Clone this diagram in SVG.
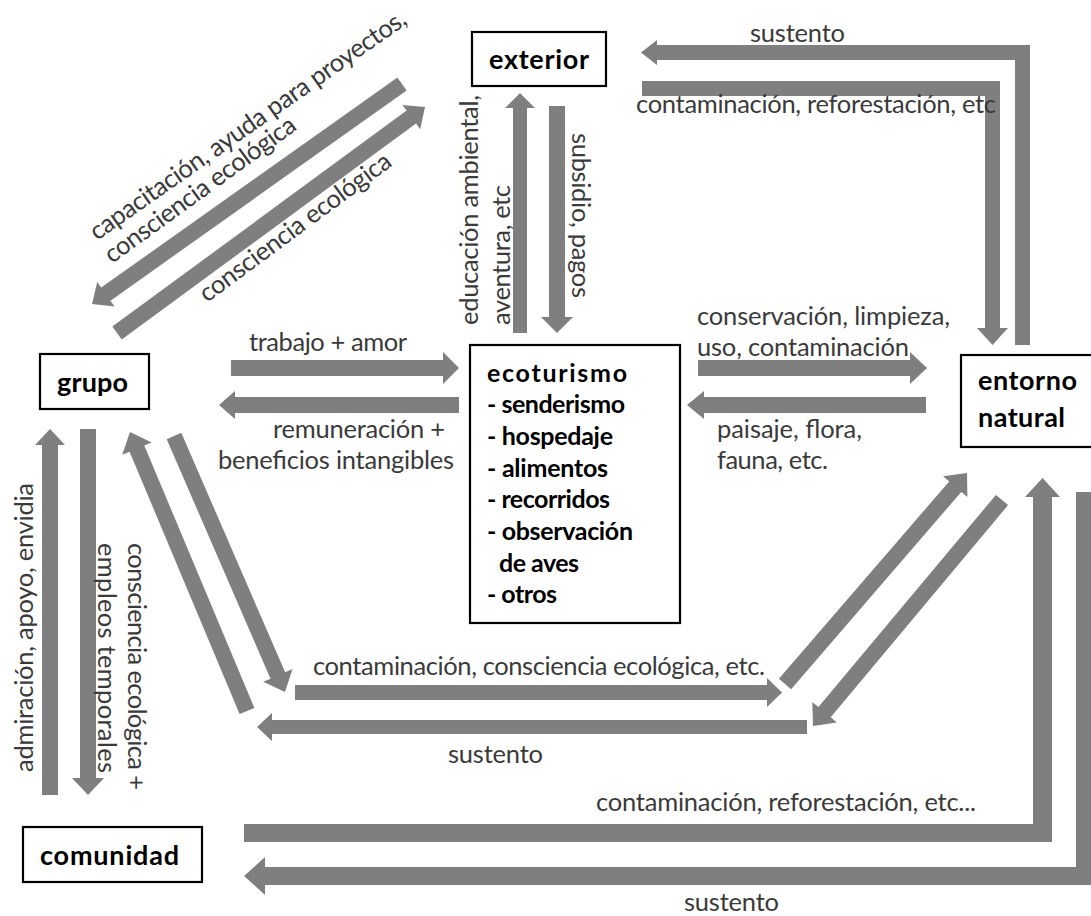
<svg xmlns="http://www.w3.org/2000/svg" width="1091" height="916" viewBox="0 0 1091 916">
<style>
.lbl{font-family:Lato,"Open Sans",sans-serif;font-size:25.5px;fill:#3a3a3a;}
.nt{font-family:Lato,"Open Sans",sans-serif;font-weight:bold;font-size:27px;fill:#000;}
.li{font-family:Lato,"Open Sans",sans-serif;font-weight:bold;font-size:25px;fill:#000;}
.box{fill:#fff;stroke:#000;stroke-width:2.2;}
.arr{fill:#7f7f7f;}
</style>
<rect width="1091" height="916" fill="#fff"/>
<g id="connectors">
  <polygon class="arr" points="397.4,77.5 101.2,287.6 97.2,281.9 92,304 114.6,306.4 110.5,300.7 406.6,90.5"/>
  <polygon class="arr" points="121.7,339.5 416,123.5 420.2,129.2 425,107 402.4,105 406.6,110.6 112.3,326.6"/>
  <text class="lbl" transform="translate(97,241) rotate(-35)" textLength="380" lengthAdjust="spacing">capacitación, ayuda para proyectos,</text>
  <text class="lbl" transform="translate(112,264) rotate(-36)" textLength="230" lengthAdjust="spacing">consciencia ecológica</text>
  <text class="lbl" transform="translate(207,303) rotate(-36.5)" textLength="232" lengthAdjust="spacing">consciencia ecológica</text>

  <polygon class="arr" points="513,333 513,108 505,108 520,93 535,108 527,108 527,333"/>
  <polygon class="arr" points="549,106 565,106 565,317 573,317 557,333 541,317 549,317"/>
  <text class="lbl" transform="translate(478,325) rotate(-90)" textLength="230" lengthAdjust="spacing">educación ambiental,</text>
  <text class="lbl" transform="translate(510,325) rotate(-90)" textLength="140" lengthAdjust="spacing">aventura, etc</text>
  <text class="lbl" transform="translate(572,133) rotate(90)" textLength="165" lengthAdjust="spacing">subsidio, pagos</text>

  <polygon class="arr" points="1015,345 1015,60 657,60 657,65 641,52.5 657,40 657,45 1030,45 1030,345"/>
  <polygon class="arr" points="642,81 1000,81 1000,328 1008,328 992.5,345 977,328 985,328 985,96 642,96"/>
  <text class="lbl" x="750" y="42" textLength="95" lengthAdjust="spacing">sustento</text>
  <text class="lbl" x="636" y="113" textLength="360" lengthAdjust="spacing">contaminación, reforestación, etc</text>

  <polygon class="arr" points="231,360 443,360 443,352 459,368 443,384 443,376 231,376"/>
  <polygon class="arr" points="459,397 235,397 235,391 219,405 235,419 235,413 459,413"/>
  <text class="lbl" x="249" y="351" textLength="158" lengthAdjust="spacing">trabajo + amor</text>
  <text class="lbl" x="273" y="438" textLength="172" lengthAdjust="spacing">remuneración +</text>
  <text class="lbl" x="218" y="469" textLength="236" lengthAdjust="spacing">beneficios intangibles</text>

  <polygon class="arr" points="698,360 910,360 910,352 927,368 910,384 910,376 698,376"/>
  <polygon class="arr" points="926,397 704,397 704,391 687,405 704,419 704,413 926,413"/>
  <text class="lbl" x="697" y="325" textLength="253" lengthAdjust="spacing">conservación, limpieza,</text>
  <text class="lbl" x="697" y="356" textLength="212" lengthAdjust="spacing">uso, contaminación</text>
  <text class="lbl" x="717" y="438" textLength="145" lengthAdjust="spacing">paisaje, flora,</text>
  <text class="lbl" x="717" y="469" textLength="111" lengthAdjust="spacing">fauna, etc.</text>

  <polygon class="arr" points="42,795 42,445 35,445 50,429 65,445 58,445 58,795"/>
  <polygon class="arr" points="80,429 96,429 96,778 104,778 88,795 72,778 80,778"/>
  <text class="lbl" transform="translate(33,772) rotate(-90)" textLength="289" lengthAdjust="spacing">admiración, apoyo, envidia</text>
  <text class="lbl" transform="translate(98,543) rotate(90)" textLength="230" lengthAdjust="spacing">empleos temporales</text>
  <text class="lbl" transform="translate(128,543) rotate(90)" textLength="247" lengthAdjust="spacing">consciencia ecológica +</text>

  <polygon class="arr" points="166.7,439.2 270.5,678.7 263.2,681.8 285,692 292.5,669.1 285.2,672.3 181.3,432.8"/>
  <polygon class="arr" points="254.4,707.9 144.3,445.5 151.7,442.4 130,432 122.2,454.8 129.6,451.7 239.6,714.1"/>

  <polygon class="arr" points="295,685 767,685 767,678 782,692.5 767,707 767,700 295,700"/>
  <polygon class="arr" points="807,720 272,720 272,713 257,727 272,741 272,734 807,734"/>
  <text class="lbl" x="313" y="675" textLength="452" lengthAdjust="spacing">contaminación, consciencia ecológica, etc.</text>
  <text class="lbl" x="448" y="763" textLength="95" lengthAdjust="spacing">sustento</text>

  <polygon class="arr" points="791.1,689.2 961.3,491.9 967.4,497.1 967,473 943.1,476.2 949.2,481.4 778.9,678.8"/>
  <polygon class="arr" points="995.9,494.9 818.4,707.1 812.3,701.9 813,726 836.8,722.5 830.7,717.3 1008.1,505.1"/>

  <polygon class="arr" points="244,824 1033,824 1033,497 1025,497 1042.5,478 1060,497 1052,497 1052,842 244,842"/>
  <polygon class="arr" points="1076,492 1094,492 1094,885 265,885 265,895 244,876 265,857 265,867 1076,867"/>
  <text class="lbl" x="596" y="811" textLength="380" lengthAdjust="spacing">contaminación, reforestación, etc...</text>
  <text class="lbl" x="684" y="911" textLength="95" lengthAdjust="spacing">sustento</text>
</g>

<g id="exterior">
  <rect class="box" x="472" y="32" width="134" height="54"/>
  <text class="nt" x="489" y="69" textLength="100" lengthAdjust="spacing">exterior</text>
</g>
<g id="grupo">
  <rect class="box" x="40" y="354" width="109" height="55"/>
  <text class="nt" x="57" y="392" textLength="71" lengthAdjust="spacing">grupo</text>
</g>
<g id="ecoturismo">
  <rect class="box" x="470" y="345" width="210" height="278"/>
  <text class="li" x="487" y="382" textLength="140" lengthAdjust="spacing">ecoturismo</text>
  <text class="li" x="487" y="413" textLength="138" lengthAdjust="spacing">- senderismo</text>
  <text class="li" x="487" y="445" textLength="126" lengthAdjust="spacing">- hospedaje</text>
  <text class="li" x="487" y="477" textLength="121" lengthAdjust="spacing">- alimentos</text>
  <text class="li" x="487" y="508" textLength="123" lengthAdjust="spacing">- recorridos</text>
  <text class="li" x="487" y="540" textLength="146" lengthAdjust="spacing">- observación</text>
  <text class="li" x="499" y="572" textLength="80" lengthAdjust="spacing">de aves</text>
  <text class="li" x="487" y="603" textLength="70" lengthAdjust="spacing">- otros</text>
</g>
<g id="entorno-natural">
  <rect class="box" x="961" y="355" width="134" height="92"/>
  <text class="nt" x="978" y="390" textLength="99" lengthAdjust="spacing">entorno</text>
  <text class="nt" x="978" y="427" textLength="87" lengthAdjust="spacing">natural</text>
</g>
<g id="comunidad">
  <rect class="box" x="23" y="827" width="179" height="55"/>
  <text class="nt" x="40" y="865" textLength="139" lengthAdjust="spacing">comunidad</text>
</g>
</svg>
